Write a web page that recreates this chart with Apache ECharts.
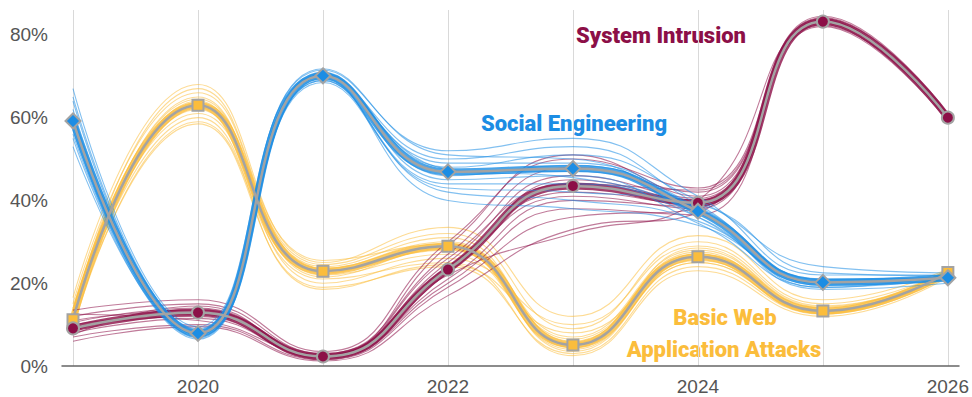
<!DOCTYPE html>
<html>
<head>
<meta charset="utf-8">
<script src="https://cdn.jsdelivr.net/npm/echarts@6/dist/echarts.min.js"></script>
<style>
html,body{margin:0;padding:0;background:#fff;}
#chart{width:972px;height:397px;}
</style>
</head>
<body>
<div id="chart"></div>
<script>
// ---- data (values in %) ----
const years = [2019, 2020, 2021, 2022, 2023, 2024, 2025, 2026];
const yTicks = [0, 20, 40, 60, 80];
const xLabelYears = [2020, 2022, 2024, 2026];

const seriesNames = ['Basic Web Application Attacks', 'System Intrusion', 'Social Engineering'];

// main (median) lines
const bwMain = [11.2, 63.0, 22.9, 28.9, 5.1, 26.4, 13.3, 22.6];
const siMain = [9.1, 12.9, 2.3, 23.3, 43.5, 39.4, 83.2, 60.0];
const seMain = [59.2, 7.9, 70.1, 46.9, 47.7, 37.4, 20.2, 21.3];

// sampled trajectories (spread of thin lines around each main line)
const bwRuns = [
  [16.5, 68.0, 25.0, 33.5, 12.0, 31.5, 16.0, 23.5],
  [15.0, 66.0, 24.5, 32.0, 9.0, 30.0, 15.0, 23.0],
  [9.0, 59.0, 21.0, 25.0, 2.5, 23.0, 12.0, 21.5],
  [10.0, 58.5, 19.0, 24.0, 3.0, 24.0, 12.5, 22.0],
  [13.0, 64.5, 23.5, 30.0, 7.0, 28.0, 14.0, 23.0],
  [12.0, 61.0, 22.0, 27.0, 4.0, 25.0, 13.0, 22.2],
  [14.0, 62.0, 20.0, 26.0, 10.0, 29.0, 14.5, 21.8],
  [10.5, 65.0, 24.0, 31.0, 6.0, 27.0, 12.8, 22.8],
  [11.5, 60.0, 18.5, 24.5, 8.0, 25.5, 13.6, 22.4],
  [12.5, 67.0, 25.5, 29.5, 4.5, 28.5, 14.2, 23.2],
  [11.0, 63.5, 23.0, 28.0, 5.5, 26.5, 13.5, 22.6],
  [13.5, 62.5, 22.5, 29.0, 6.5, 27.5, 13.0, 22.4],
  [10.0, 64.0, 21.5, 28.5, 3.5, 25.0, 12.6, 22.9]
];
const siRuns = [
  [13.5, 16.0, 3.5, 30.0, 50.0, 43.0, 84.5, 61.0],
  [12.0, 15.0, 3.0, 27.0, 48.0, 42.0, 84.0, 60.5],
  [6.0, 9.5, 1.2, 17.0, 33.0, 37.0, 82.0, 59.0],
  [7.0, 10.0, 1.5, 19.0, 36.0, 38.0, 82.5, 59.5],
  [10.5, 14.0, 2.8, 25.0, 46.0, 40.5, 83.5, 60.2],
  [8.0, 11.5, 2.0, 21.0, 40.0, 38.5, 82.8, 59.8],
  [11.0, 13.5, 2.5, 29.0, 51.0, 41.0, 83.0, 60.5],
  [9.5, 12.0, 1.8, 20.0, 38.0, 36.5, 83.8, 59.2],
  [7.5, 14.5, 2.2, 22.0, 32.0, 40.0, 82.2, 60.0],
  [12.5, 11.0, 2.6, 26.0, 44.0, 42.5, 84.2, 60.8],
  [9.0, 13.0, 2.3, 24.0, 42.0, 39.0, 83.2, 60.0],
  [10.0, 12.5, 2.0, 22.5, 45.0, 40.0, 83.0, 59.7],
  [8.5, 13.8, 2.6, 23.5, 41.0, 38.0, 83.5, 60.3]
];
const seRuns = [
  [67.0, 9.5, 71.5, 52.0, 55.0, 41.0, 22.0, 22.0],
  [64.0, 8.5, 70.5, 50.0, 53.0, 39.0, 21.0, 21.5],
  [55.0, 6.5, 69.0, 42.0, 40.0, 35.0, 19.0, 21.0],
  [53.0, 7.0, 69.5, 40.0, 38.0, 34.0, 19.5, 20.5],
  [61.0, 8.0, 71.0, 48.0, 51.0, 40.0, 24.0, 22.5],
  [57.0, 7.5, 69.0, 44.0, 44.0, 36.0, 18.5, 20.0],
  [62.0, 9.0, 70.0, 49.0, 49.0, 38.5, 21.0, 21.0],
  [58.0, 7.0, 70.8, 45.0, 46.0, 34.5, 19.0, 22.0],
  [65.0, 8.8, 71.8, 51.0, 50.0, 36.0, 20.5, 20.8],
  [56.0, 6.8, 68.5, 43.0, 42.0, 39.0, 22.5, 21.8],
  [60.0, 8.2, 70.0, 47.0, 47.0, 37.5, 20.0, 21.3],
  [59.0, 7.6, 70.4, 46.0, 48.5, 38.0, 20.8, 21.5],
  [60.5, 8.0, 69.8, 47.5, 45.5, 37.0, 19.8, 21.1]
];

// ---- styling ----
const colBW = '#fbbd3c';
const colSI = '#8c0f47';
const colSE = '#1c8de4';
const mainGray = '#a3a3a3';

function pts(vals) { return years.map((y, i) => [y, vals[i]]); }

const groups = [
  { name: seriesNames[0], main: bwMain, runs: bwRuns, color: colBW, symbol: 'rect', size: 11 },
  { name: seriesNames[1], main: siMain, runs: siRuns, color: colSI, symbol: 'circle', size: 12 },
  { name: seriesNames[2], main: seMain, runs: seRuns, color: colSE, symbol: 'diamond', size: 15 }
];

const series = [];
groups.forEach((g, gi) => {
  g.runs.forEach((r, ri) => {
    series.push({
      type: 'line', name: g.name + ' run ' + ri, data: pts(r), smooth: 0.5,
      showSymbol: false, silent: true, z: 2 + gi,
      lineStyle: { color: g.color, width: 1.1, opacity: 0.55 }
    });
  });
  series.push({
    type: 'line', name: g.name + ' core', data: pts(g.main), smooth: 0.5,
    showSymbol: false, silent: true, z: 2 + gi,
    lineStyle: { color: g.color, width: 7, opacity: 0.8 }
  });
});
groups.forEach((g, gi) => {
  series.push({
    type: 'line', name: g.name, data: pts(g.main), smooth: 0.5,
    symbol: g.symbol, symbolSize: g.size, showSymbol: true, z: 10 + gi,
    lineStyle: { color: mainGray, width: 2.5 },
    itemStyle: { color: g.color, borderColor: mainGray, borderWidth: 2 }
  });
});

// axis-line-only helper series for the wider baseline grid
series.push({ type: 'line', xAxisIndex: 1, yAxisIndex: 1, data: [], silent: true });

const labelFont = '900 22px Roboto';

const chart = echarts.init(document.getElementById('chart'), null, { renderer: 'svg' });
chart.setOption({
  animation: false,
  backgroundColor: '#ffffff',
  grid: [
    { left: 73, right: 24, top: 10, bottom: 31 },
    { left: 62, right: 13, top: 10, bottom: 31 }
  ],
  xAxis: [
    {
      type: 'value', gridIndex: 0, min: years[0], max: years[years.length - 1], interval: 1,
      axisLine: { show: false }, axisTick: { show: false },
      splitLine: { show: true, lineStyle: { color: '#d9d9d9', width: 1 } },
      axisLabel: {
        margin: 11, color: '#555', fontSize: 19, fontFamily: 'Liberation Sans',
        formatter: v => xLabelYears.indexOf(v) >= 0 ? String(v) : ''
      }
    },
    {
      type: 'value', gridIndex: 1, min: 0, max: 1,
      axisLine: { show: true, lineStyle: { color: '#666', width: 1.5 } },
      axisTick: { show: false }, axisLabel: { show: false }, splitLine: { show: false }
    }
  ],
  yAxis: [
    {
      type: 'value', gridIndex: 0, min: 0, max: 86, interval: 20,
      axisLine: { show: false }, axisTick: { show: false }, splitLine: { show: false },
      axisLabel: {
        margin: 25, color: '#555', fontSize: 19, fontFamily: 'Liberation Sans',
        formatter: v => yTicks.indexOf(v) >= 0 ? v + '%' : ''
      }
    },
    { type: 'value', gridIndex: 1, min: 0, max: 1, show: false }
  ],
  graphic: [
    { type: 'text', x: 661, y: 35, silent: true,
      style: { text: 'System Intrusion', align: 'center', verticalAlign: 'middle',
        font: labelFont, fill: colSI } },
    { type: 'text', x: 574, y: 123, silent: true,
      style: { text: 'Social Engineering', align: 'center', verticalAlign: 'middle',
        font: labelFont, fill: colSE } },
    { type: 'text', x: 725, y: 317, silent: true,
      style: { text: 'Basic Web', align: 'center', verticalAlign: 'middle',
        font: labelFont, fill: colBW } },
    { type: 'text', x: 724, y: 349, silent: true,
      style: { text: 'Application Attacks', align: 'center', verticalAlign: 'middle',
        font: labelFont, fill: colBW } }
  ],
  series: series
});
</script>
</body>
</html>
